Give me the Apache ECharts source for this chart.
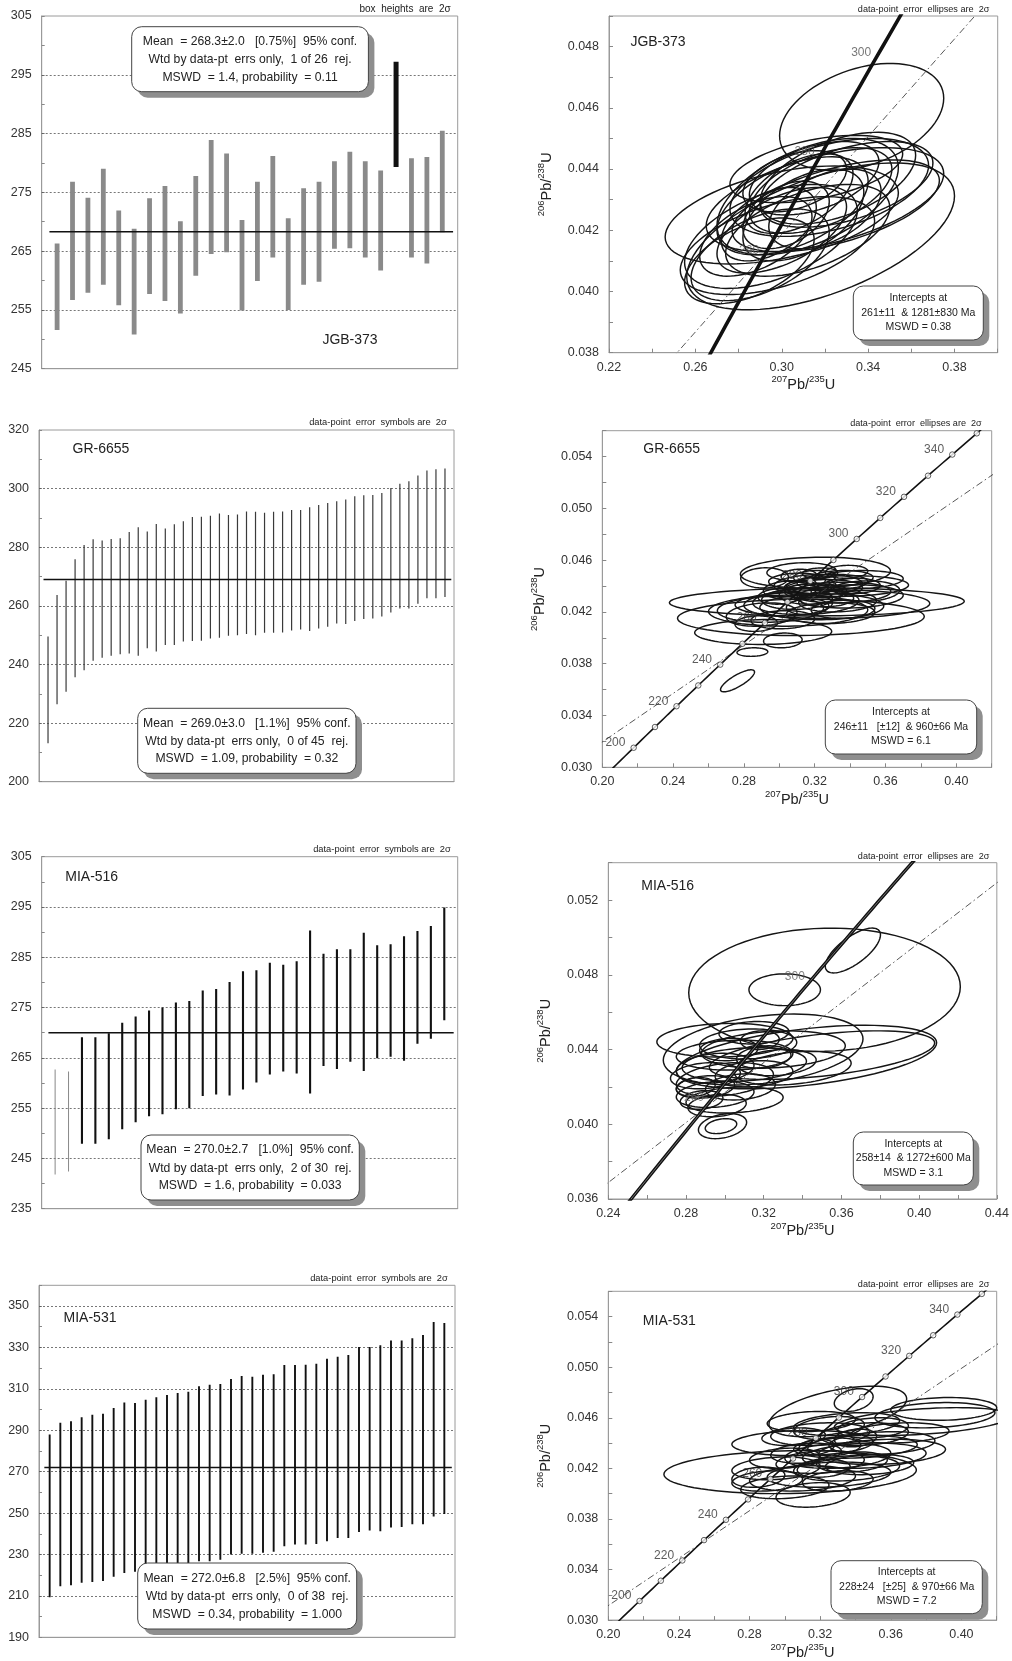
<!DOCTYPE html>
<html><head><meta charset="utf-8">
<script src="https://cdn.jsdelivr.net/npm/echarts@6/dist/echarts.min.js"></script>
<style>html,body{margin:0;padding:0;background:#fff}#c{width:1012px;height:1661px}</style>
</head><body><div id="c"></div><script>
// ---------------- DATA ----------------
// JGB-373 weighted mean (2-sigma boxes)
const jgbLow  = [251.6,256.7,257.9,259.3,255.8,250.8,257.7,256.5,254.4,260.8,264.5,264.8,254.9,259.9,263.9,255.0,259.3,259.8,265.4,265.5,263.9,261.7,279.3,263.9,262.9,268.2];
const jgbHigh = [266.3,276.8,274.1,279.0,271.9,268.8,274.0,276.1,270.1,277.8,283.9,281.6,270.3,276.8,281.2,270.6,275.7,276.8,280.3,281.9,280.3,278.7,297.2,280.8,281.0,285.5];
const jgbRejected = [23];
const jgbMean = 268.3;
const jgbTicks = [245,255,265,275,285,295,305];

// GR-6655 weighted mean
const grLow  = [213.1,226.4,230.7,235.6,238.0,241.3,242.3,243.0,243.5,243.7,243.0,245.5,244.4,246.6,246.6,247.8,248.0,248.1,248.9,249.1,249.8,250.0,250.4,250.0,250.8,250.8,250.9,251.6,251.9,251.4,252.3,252.9,254.0,253.8,254.8,255.5,255.7,256.4,257.7,259.1,259.1,260.7,262.6,262.6,263.0];
const grHigh = [249.5,263.7,268.6,275.9,280.8,282.7,282.3,282.8,283.1,285.2,286.8,285.4,287.9,286.4,287.8,288.9,290.3,290.4,290.7,291.5,291.0,291.2,292.2,292.1,291.8,292.1,292.2,292.7,292.7,293.6,294.4,295.1,295.7,296.3,297.4,297.7,297.8,298.5,300.2,301.7,302.5,304.5,306.2,306.6,306.9];
const grRejected = [];
const grMean = 269.0;
const grTicks = [200,220,240,260,280,300,320];

// MIA-516 weighted mean
const m516Low  = [241.8,242.4,247.9,247.9,248.8,250.8,252.2,253.4,253.8,254.8,255.0,257.4,257.7,257.5,258.7,260.1,261.7,262.3,261.9,257.9,263.4,262.8,264.2,262.4,264.9,265.2,264.4,267.8,268.8,272.5];
const m516High = [262.7,262.3,269.1,269.1,269.9,272.0,273.2,274.4,275.0,276.0,276.3,278.4,278.7,280.1,282.2,282.4,283.9,283.5,284.2,290.3,285.7,286.6,286.6,289.9,287.4,287.6,289.2,290.2,291.2,294.9];
const m516Rejected = [1,2];
const m516Mean = 270.0;
const m516Ticks = [235,245,255,265,275,285,295,305];

// MIA-531 weighted mean
const m531Low  = [209.3,214.6,215.1,216.4,216.7,217.2,219.3,221.1,221.6,222.7,223.5,224.6,225.5,225.9,226.7,226.7,227.4,230.0,230.3,230.3,230.8,231.3,234.0,234.8,234.8,235.0,236.4,238.0,238.0,240.8,241.6,241.2,243.0,243.3,244.6,244.6,248.3,249.6];
const m531High = [288.0,293.6,294.4,296.3,297.5,298.0,300.7,303.4,303.1,304.7,305.9,307.0,308.0,308.6,311.2,312.0,312.3,314.7,316.2,315.8,316.8,317.1,321.5,321.5,321.6,322.1,324.5,325.5,326.3,330.2,330.2,331.1,333.4,333.4,334.4,336.0,342.3,341.8];
const m531Rejected = [];
const m531Mean = 272.0;
const m531Ticks = [190,210,230,250,270,290,310,330,350];

// Concordia ellipses: centre x (207Pb/235U), centre y (206Pb/238U), half-extent x, half-extent y, error correlation
const jgbEx  = [0.337,0.300,0.318,0.312,0.322,0.320,0.305,0.295,0.290,0.300,0.310,0.315,0.318,0.308,0.326,0.298,0.285,0.302,0.320,0.312,0.294,0.330,0.306,0.316,0.288,0.325];
const jgbEy  = [0.0457,0.0425,0.0418,0.0431,0.0434,0.0430,0.0428,0.0418,0.0412,0.0420,0.0425,0.0437,0.0433,0.0432,0.0437,0.0415,0.0410,0.0425,0.0427,0.0420,0.0422,0.0435,0.0436,0.0440,0.0418,0.0428];
const jgbEsx = [0.038,0.054,0.062,0.042,0.046,0.055,0.035,0.040,0.032,0.030,0.028,0.030,0.033,0.025,0.036,0.045,0.030,0.020,0.026,0.038,0.022,0.040,0.024,0.040,0.026,0.048];
const jgbEsy = [0.00175,0.0016,0.0024,0.0019,0.0016,0.0017,0.0016,0.0017,0.0015,0.0014,0.0015,0.0012,0.0014,0.0013,0.0015,0.0016,0.0014,0.0011,0.0013,0.0015,0.0012,0.0014,0.0010,0.0011,0.0013,0.0015];
const jgbErho = [0.35,0.45,0.55,0.5,0.45,0.5,0.5,0.5,0.5,0.55,0.5,0.45,0.5,0.5,0.5,0.5,0.5,0.4,0.45,0.5,0.45,0.5,0.4,0.45,0.5,0.55];

const grEx  = [0.2764,0.2848,0.3212,0.3122,0.2909,0.3204,0.3126,0.3020,0.3050,0.3300,0.2900,0.2950,0.3380,0.3350,0.3250,0.3180,0.3300,0.3220,0.3100,0.3400,0.3150,0.3060,0.3270,0.3350,0.3200,0.3420,0.3000,0.3130,0.3280,0.3180,0.3330,0.3050,0.3240,0.2917,0.3480,0.3100,0.3380,0.3230,0.3160,0.3020,0.2870,0.3360,0.3290,0.3450,0.3110];
const grEy  = [0.03668,0.0389,0.04277,0.04158,0.04045,0.04504,0.0451,0.0398,0.0421,0.0426,0.0418,0.0422,0.0440,0.0435,0.0438,0.0434,0.0443,0.0441,0.0430,0.0432,0.0428,0.0437,0.0430,0.0446,0.0447,0.0440,0.0432,0.0436,0.0436,0.0440,0.0428,0.0426,0.0424,0.04463,0.0436,0.0444,0.0451,0.0450,0.0424,0.0414,0.0411,0.0422,0.0419,0.0445,0.0448];
const grEsx = [0.0096,0.0087,0.0833,0.0697,0.0387,0.0424,0.0196,0.0109,0.045,0.055,0.020,0.030,0.035,0.028,0.022,0.018,0.020,0.025,0.020,0.030,0.030,0.015,0.015,0.018,0.012,0.015,0.012,0.010,0.010,0.014,0.022,0.025,0.035,0.0135,0.020,0.016,0.012,0.010,0.012,0.018,0.012,0.018,0.025,0.025,0.010];
const grEsy = [0.00085,0.00033,0.00108,0.0014,0.00096,0.00119,0.0007,0.00057,0.0012,0.0011,0.0009,0.0010,0.0008,0.0008,0.0007,0.0008,0.0006,0.0008,0.0008,0.0009,0.0010,0.0007,0.0006,0.0006,0.0005,0.0006,0.0006,0.0005,0.0005,0.0006,0.0008,0.0009,0.0010,0.00078,0.0008,0.0006,0.0005,0.0004,0.0006,0.0007,0.0006,0.0007,0.0008,0.0007,0.0005];
const grErho = [0.8,0.1,0.05,0.05,0.05,0.1,0.1,0.1,0.05,0.05,0.2,0.1,0.1,0.1,0.1,0.1,0.1,0.1,0.1,0.1,0.1,0.1,0.1,0.1,0.1,0.1,0.1,0.1,0.1,0.1,0.1,0.1,0.05,0.05,0.1,0.1,0.1,0.1,0.1,0.1,0.1,0.1,0.1,0.1,0.1];

const m516Ex  = [0.3513,0.3659,0.3308,0.3197,0.3420,0.3500,0.2988,0.2980,0.3150,0.3120,0.3250,0.3050,0.3100,0.2950,0.3000,0.2900,0.2950,0.3050,0.2880,0.2960,0.3200,0.3150,0.3080,0.3270,0.3020,0.3180,0.2900,0.3350,0.3000,0.2850];
const m516Ey  = [0.0472,0.0493,0.0472,0.0440,0.0436,0.0437,0.0399,0.0399,0.0449,0.0443,0.0440,0.0437,0.0432,0.0430,0.0424,0.0420,0.0416,0.0413,0.0413,0.0410,0.0436,0.0427,0.0420,0.0433,0.0440,0.0445,0.0426,0.0430,0.0445,0.0420];
const m516Esx = [0.0699,0.0142,0.0184,0.0514,0.0670,0.0580,0.0124,0.0081,0.0180,0.0250,0.0370,0.0300,0.0320,0.0200,0.0250,0.0150,0.0200,0.0250,0.0110,0.0150,0.0140,0.0200,0.0180,0.0200,0.0150,0.0100,0.0180,0.0300,0.0350,0.0100];
const m516Esy = [0.0033,0.0012,0.00085,0.0019,0.0017,0.0013,0.00067,0.0004,0.0006,0.0008,0.0010,0.0008,0.0009,0.0008,0.0009,0.0006,0.0007,0.0007,0.0005,0.0006,0.0006,0.0007,0.0007,0.0007,0.0006,0.0005,0.0007,0.0009,0.0009,0.0005];
const m516Erho = [0.05,0.7,0.0,0.3,0.45,0.5,0.3,0.3,0.1,0.1,0.2,0.1,0.2,0.2,0.3,0.2,0.2,0.2,0.2,0.2,0.2,0.2,0.2,0.2,0.1,0.1,0.2,0.3,0.1,0.2];

const m531Ex  = [0.303,0.330,0.339,0.390,0.385,0.378,0.316,0.300,0.290,0.310,0.325,0.335,0.345,0.355,0.320,0.330,0.340,0.310,0.320,0.345,0.355,0.325,0.335,0.315,0.350,0.328,0.338,0.300,0.295,0.312,0.348,0.330,0.305,0.340,0.322,0.365,0.285,0.318];
const m531Ey  = [0.0417,0.0465,0.0474,0.0467,0.0462,0.0457,0.0399,0.0405,0.0410,0.0412,0.0415,0.0420,0.0430,0.0433,0.0425,0.0430,0.0437,0.0440,0.0447,0.0447,0.0440,0.0452,0.0455,0.0457,0.0452,0.0437,0.0425,0.0428,0.0420,0.0432,0.0423,0.0410,0.0445,0.0444,0.0420,0.0448,0.0413,0.0437];
const m531Esx = [0.0715,0.039,0.011,0.030,0.034,0.050,0.021,0.025,0.020,0.030,0.035,0.030,0.035,0.036,0.025,0.030,0.035,0.040,0.028,0.025,0.030,0.020,0.030,0.025,0.020,0.015,0.020,0.020,0.025,0.020,0.025,0.020,0.018,0.012,0.015,0.028,0.015,0.010];
const m531Esy = [0.0017,0.0020,0.0009,0.0009,0.0010,0.0011,0.00097,0.0009,0.0008,0.0010,0.0010,0.0010,0.0010,0.0010,0.0009,0.0010,0.0009,0.0010,0.0009,0.0009,0.0009,0.0009,0.0009,0.0008,0.0008,0.0007,0.0008,0.0008,0.0009,0.0008,0.0008,0.0008,0.0007,0.0007,0.0007,0.0008,0.0008,0.0006];
const m531Erho = [0.1,0.5,0.3,0.1,0.2,0.4,0.2,0.2,0.2,0.2,0.2,0.2,0.2,0.2,0.2,0.2,0.2,0.1,0.2,0.2,0.2,0.3,0.3,0.2,0.2,0.2,0.2,0.2,0.2,0.2,0.2,0.2,0.2,0.2,0.2,0.2,0.2,0.2];

// Intercept ages (Ma) of the discordia lines
const jgbIntercepts = [261, 1281];
const grIntercepts = [246, 960];
const m516Intercepts = [258, 1272];
const m531Intercepts = [228, 970];

// Concordia age marks (Ma) and labelled ages
const ageMarks = [200,210,220,230,240,250,260,270,280,290,300,310,320,330,340,350];
const grAgeLabels = [200,220,240,260,280,300,320,340];
const jgbAgeLabels = [260,280,300];
const m516AgeLabels = [260,300];
const m531AgeLabels = [200,220,240,260,280,300,320,340];

// ---------------- HELPERS ----------------
const FONT = '"Liberation Sans", Arial, sans-serif';
const L235 = 9.8485e-4, L238 = 1.55125e-4; // decay constants per Ma
const conc = t => [Math.exp(L235 * t) - 1, Math.exp(L238 * t) - 1];
const curveAges = []; for (let t = 120; t <= 440; t += 2) curveAges.push(t);

const isMajor = (v, base, step) => { const k = (v - base) / step; return Math.abs(k - Math.round(k)) < 1e-6; };

const gridsL = [
  {left:41.7, top:16, width:416, height:352.7},
  {left:39, top:430, width:415, height:351.7},
  {left:41.7, top:856.7, width:416, height:352},
  {left:39, top:1285.3, width:416, height:352}
];
const gridsR = [
  {left:609, top:16, width:388.7, height:336.7},
  {left:602.3, top:430.7, width:389.4, height:336.6},
  {left:608.3, top:862.7, width:389.4, height:336.3},
  {left:608.3, top:1291.3, width:388.4, height:336}
];

const option = { animation:false, backgroundColor:'#fff', grid:[], xAxis:[], yAxis:[], series:[], graphic:{elements:[]} };

function addLeft(g, low, high, rej, mean, ticks, ymin, ymax, minorStep, style) {
  const gi = option.grid.length;
  option.grid.push(Object.assign({show:true, borderColor:'#9a9a9a', borderWidth:1}, g));
  const n = low.length;
  option.xAxis.push({gridIndex:gi, type:'value', min:0, max:n+1, axisLine:{show:true, lineStyle:{color:'#9a9a9a'}},
    axisTick:{show:false}, axisLabel:{show:false}, splitLine:{show:false}});
  const majorStep = ticks[1]-ticks[0];
  option.yAxis.push({gridIndex:gi, type:'value', min:ymin, max:ymax, interval:minorStep,
    axisLine:{show:true, lineStyle:{color:'#9a9a9a'}},
    axisTick:{show:true, inside:true, length:3, lineStyle:{color:'#888'}},
    axisLabel:{fontFamily:FONT, fontSize:12.5, color:'#333', margin:10,
      formatter: v => isMajor(v, ticks[0], majorStep) ? String(Math.round(v)) : ''},
    splitLine:{show:false}});
  const data = low.map((lo,i)=>[i+1, lo, high[i], rej.includes(i+1)?1:0]);
  option.series.push({type:'custom', xAxisIndex:gi, yAxisIndex:gi, clip:true, z:3,
    encode:{x:0, y:[1,2]}, data,
    renderItem:(params, api) => {
      const x = api.value(0), lo = api.value(1), hi = api.value(2), r = api.value(3);
      const p1 = api.coord([x, lo]), p2 = api.coord([x, hi]);
      const w = r ? style.rejWidth : style.width;
      return {type:'rect', shape:{x:p1[0]-w/2, y:p2[1], width:w, height:p1[1]-p2[1]},
        style:{fill: r ? style.rejColor : style.color}};
    }});
  const grid = ticks.filter(t => t > ymin && t < ymax);
  option.series.push({type:'line', xAxisIndex:gi, yAxisIndex:gi, z:4, showSymbol:false, silent:true,
    data:[[0.5, mean],[n+0.7, mean]], lineStyle:{color:'#111', width:1.6},
    markLine:{silent:true, symbol:['none','none'], label:{show:false}, z:1,
      lineStyle:{color:'#555', width:0.8, type:[2,2]},
      data: grid.map(v => ({yAxis:v}))}});
}

function addRight(g, xmin, xmax, ymin, ymax, ex, ey, esx, esy, erho, intercepts, concStyle) {
  const gi = option.grid.length;
  option.grid.push(Object.assign({show:true, borderColor:'#9a9a9a', borderWidth:1}, g));
  const rich = {s:{fontSize:9.5, fontFamily:FONT, color:'#222', verticalAlign:'top', lineHeight:18},
                n:{fontSize:14.5, fontFamily:FONT, color:'#222', verticalAlign:'bottom', lineHeight:18}};
  option.xAxis.push({gridIndex:gi, type:'value', min:xmin, max:xmax, interval:0.02,
    axisLine:{show:true, lineStyle:{color:'#9a9a9a'}},
    axisTick:{show:true, inside:true, length:4, lineStyle:{color:'#888'}},
    axisLabel:{fontFamily:FONT, fontSize:12.5, color:'#333', margin:8,
      formatter: v => isMajor(v, xmin, 0.04) ? v.toFixed(2) : ''},
    splitLine:{show:false},
    name:'{s|207}{n|Pb/}{s|235}{n|U}', nameLocation:'middle', nameGap:20, nameTextStyle:{rich}});
  option.yAxis.push({gridIndex:gi, type:'value', min:ymin, max:ymax, interval:(ymax-ymin < 0.015 ? 0.001 : 0.002),
    axisLine:{show:true, lineStyle:{color:'#9a9a9a'}},
    axisTick:{show:true, inside:true, length:4, lineStyle:{color:'#888'}},
    axisLabel:{fontFamily:FONT, fontSize:12.5, color:'#333', margin:10,
      formatter: v => isMajor(v, ymin, (ymax-ymin < 0.015 ? 0.002 : 0.004)) ? v.toFixed(3) : ''},
    splitLine:{show:false},
    name:'{s|206}{n|Pb/}{s|238}{n|U}', nameLocation:'middle', nameGap:55, nameRotate:90, nameTextStyle:{rich}});
  // ellipses
  const edata = ex.map((x,i)=>[x, ey[i], esx[i], esy[i], erho[i]]);
  option.series.push({type:'custom', xAxisIndex:gi, yAxisIndex:gi, clip:true, z:3, encode:{x:0,y:1}, data:edata,
    renderItem:(params, api) => {
      const cx=api.value(0), cy=api.value(1), sx=api.value(2), sy=api.value(3), r=api.value(4);
      const k = Math.sqrt(1-r*r), pts=[];
      for (let j=0;j<=80;j++){ const t=j/80*2*Math.PI;
        pts.push(api.coord([cx+sx*Math.cos(t), cy+sy*(r*Math.cos(t)+k*Math.sin(t))])); }
      return {type:'polygon', shape:{points:pts}, style:{fill:'none', stroke:'#151515', lineWidth:1.45}};
    }});
  // discordia
  const L = conc(intercepts[0]), U = conc(intercepts[1]);
  const ext = [L[0] + (L[0]-U[0])*0.3, L[1] + (L[1]-U[1])*0.3];
  option.series.push({type:'line', xAxisIndex:gi, yAxisIndex:gi, z:4, showSymbol:false, silent:true, clip:true,
    data:[ext, L, U], lineStyle:{color:'#444', width:0.9, type:[7,3,1.5,3]}});
  // concordia curve
  const curve = curveAges.map(conc);
  option.series.push({type:'line', xAxisIndex:gi, yAxisIndex:gi, z:5, showSymbol:false, silent:true, clip:true,
    data: curve, lineStyle:{color:'#111', width:concStyle.width}});
  if (concStyle.double) {
    option.series.push({type:'line', xAxisIndex:gi, yAxisIndex:gi, z:5, showSymbol:false, silent:true, clip:true,
      data: curve, lineStyle:{color:'#9a9a9a', width:0.7}});
  }
  // age marks
  option.series.push({type:'scatter', xAxisIndex:gi, yAxisIndex:gi, z:6, clip:true, silent:true,
    data: ageMarks.map(t => conc(t).concat([t])),
    symbol:'circle', symbolSize:concStyle.marks ? 5.5 : 0,
    itemStyle:{color:'#fff', borderColor:'#222', borderWidth:0.9},
    label:{show:true, position:'left', distance:5, offset:[0,-5], fontFamily:FONT, fontSize:12,
      color:concStyle.labelColor,
      formatter: p => concStyle.labels.includes(p.value[2]) ? String(p.value[2]) : ''}});
}

addLeft(gridsL[0], jgbLow, jgbHigh, jgbRejected, jgbMean, jgbTicks, 245, 305, 5,
  {width:4.8, color:'#8a8a8a', rejWidth:5, rejColor:'#111'});
addRight(gridsR[0], 0.22, 0.40, 0.038, 0.049, jgbEx, jgbEy, jgbEsx, jgbEsy, jgbErho, jgbIntercepts,
  {width:3.6, marks:false, labels:jgbAgeLabels, labelColor:'#555'});
addLeft(gridsL[1], grLow, grHigh, grRejected, grMean, grTicks, 200, 320, 10,
  {width:1.2, color:'#3a3a3a', rejWidth:1.2, rejColor:'#999'});
addRight(gridsR[1], 0.20, 0.42, 0.030, 0.056, grEx, grEy, grEsx, grEsy, grErho, grIntercepts,
  {width:1.6, marks:true, labels:grAgeLabels, labelColor:'#333'});
addLeft(gridsL[2], m516Low, m516High, m516Rejected, m516Mean, m516Ticks, 235, 305, 5,
  {width:2.1, color:'#111', rejWidth:1, rejColor:'#888'});
addRight(gridsR[2], 0.24, 0.44, 0.036, 0.054, m516Ex, m516Ey, m516Esx, m516Esy, m516Erho, m516Intercepts,
  {width:3.4, marks:false, double:true, labels:m516AgeLabels, labelColor:'#666'});
addLeft(gridsL[3], m531Low, m531High, m531Rejected, m531Mean, m531Ticks, 190, 360, 10,
  {width:1.9, color:'#111', rejWidth:1, rejColor:'#888'});
addRight(gridsR[3], 0.20, 0.42, 0.030, 0.056, m531Ex, m531Ey, m531Esx, m531Esy, m531Erho, m531Intercepts,
  {width:1.6, marks:true, labels:m531AgeLabels, labelColor:'#333'});

// ---------------- TEXT BOXES & LABELS ----------------
const G = option.graphic.elements;
function box(x, y, w, h, lines, ys, fs) {
  G.push({type:'rect', z:50, shape:{x:x+6, y:y+6, width:w, height:h, r:10}, style:{fill:'#8e8e8e'}});
  G.push({type:'rect', z:51, shape:{x, y, width:w, height:h, r:10}, style:{fill:'#fff', stroke:'#444', lineWidth:1}});
  lines.forEach((t,i) => G.push({type:'text', z:52, x:x+w/2, y:ys[i],
    style:{text:t, fill:'#222', font: fs+'px '+FONT, align:'center', verticalAlign:'middle'}}));
}
function txt(t, x, y, fs, align) {
  G.push({type:'text', z:52, x, y, style:{text:t, fill:'#222', font: fs+'px '+FONT, align:align||'center', verticalAlign:'middle'}});
}
box(131.7, 26.7, 236.7, 65, ['Mean  = 268.3±2.0   [0.75%]  95% conf.', 'Wtd by data-pt  errs only,  1 of 26  rej.', 'MSWD  = 1.4, probability  = 0.11'], [41.7, 60, 77.3], 12.2);
box(137.7, 708.3, 218.3, 65, ['Mean  = 269.0±3.0   [1.1%]  95% conf.', 'Wtd by data-pt  errs only,  0 of 45  rej.', 'MSWD  = 1.09, probability  = 0.32'], [723.3, 741.7, 758.3], 12.2);
box(141, 1135, 218.3, 65, ['Mean  = 270.0±2.7   [1.0%]  95% conf.', 'Wtd by data-pt  errs only,  2 of 30  rej.', 'MSWD  = 1.6, probability  = 0.033'], [1150, 1168.3, 1185.7], 12.2);
box(137.7, 1563, 219, 66, ['Mean  = 272.0±6.8   [2.5%]  95% conf.', 'Wtd by data-pt  errs only,  0 of 38  rej.', 'MSWD  = 0.34, probability  = 1.000'], [1578.7, 1597, 1614.7], 12.2);

box(853.3, 286, 130, 54, ['Intercepts at', '261±11  & 1281±830 Ma', 'MSWD = 0.38'], [297.7, 312.7, 326.7], 10.5);
box(825.3, 700, 151.4, 54, ['Intercepts at', '246±11   [±12]  & 960±66 Ma', 'MSWD = 6.1'], [711.7, 726.7, 740.7], 10.5);
box(853.3, 1132, 120, 53, ['Intercepts at', '258±14  & 1272±600 Ma', 'MSWD = 3.1'], [1144, 1158.3, 1172.7], 10.5);
box(831, 1560.7, 151.3, 53, ['Intercepts at', '228±24   [±25]  & 970±66 Ma', 'MSWD = 7.2'], [1572, 1587.3, 1601.3], 10.5);

txt('JGB-373', 350, 340, 14);
txt('JGB-373', 658, 42, 14);
txt('GR-6655', 101, 449.3, 14);
txt('GR-6655', 671.7, 449.3, 14);
txt('MIA-516', 91.7, 876.7, 14);
txt('MIA-516', 667.7, 886, 14);
txt('MIA-531', 90, 1318, 14);
txt('MIA-531', 669.3, 1321.3, 14);

txt('box  heights  are  2σ', 450.7, 9.5, 10, 'right');
txt('data-point  error  symbols are  2σ', 446.7, 422.3, 9.3, 'right');
txt('data-point  error  symbols are  2σ', 450.7, 849.3, 9.3, 'right');
txt('data-point  error  symbols are  2σ', 447.7, 1278.7, 9.3, 'right');
txt('data-point  error  ellipses are  2σ', 989.3, 9.7, 9.1, 'right');
txt('data-point  error  ellipses are  2σ', 981.7, 423.3, 9.1, 'right');
txt('data-point  error  ellipses are  2σ', 989.3, 856.7, 9.1, 'right');
txt('data-point  error  ellipses are  2σ', 989.3, 1284.7, 9.1, 'right');

const chart = echarts.init(document.getElementById('c'), null, {renderer:'canvas'});
chart.setOption(option);
</script></body></html>
